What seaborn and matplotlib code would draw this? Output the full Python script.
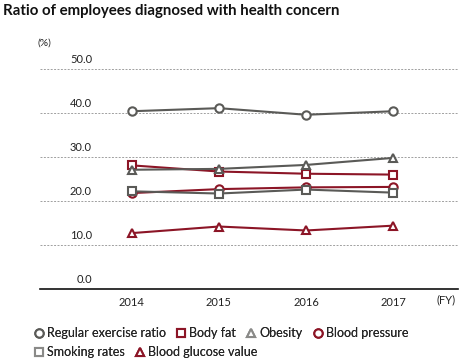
import matplotlib
matplotlib.use("Agg")
import matplotlib.pyplot as plt
import matplotlib.transforms as mtransforms
import seaborn as sns

sns.set_style("white")
plt.rcParams["font.family"] = ["Lato", "DejaVu Sans"]

# Data
years = [2014, 2015, 2016, 2017]
exercise = [40.4, 41.1, 39.6, 40.4]
body_fat = [28.1, 26.7, 26.2, 26.0]
obesity = [27.1, 27.3, 28.2, 29.8]
blood_pressure = [21.8, 22.7, 23.1, 23.2]
smoking = [22.2, 21.7, 22.6, 21.9]
glucose = [12.7, 14.2, 13.3, 14.4]
y_ticks = [0, 10, 20, 30, 40, 50]

grey = "#5a5a57"
red = "#8c1526"

series = [
    ("Regular exercise ratio", exercise, grey, "o"),
    ("Body fat", body_fat, red, "s"),
    ("Obesity", obesity, grey, "^"),
    ("Blood pressure", blood_pressure, red, "o"),
    ("Smoking rates", smoking, grey, "s"),
    ("Blood glucose value", glucose, red, "^"),
]

fig = plt.figure(figsize=(4.59, 3.61), dpi=100)
ax = fig.add_axes([40 / 459, 1 - 289 / 361, 418 / 459, 220 / 361])

handles = {}
for name, vals, col, mk in series:
    sns.lineplot(x=years, y=vals, ax=ax, color=col, marker=mk, markersize=6,
                 markerfacecolor="white", markeredgecolor=col, markeredgewidth=1.5,
                 linewidth=1.5, label=name, clip_on=False, legend=False)
    handles[name] = ax.lines[-1]

ax.set_xlim(2012.95, 2017.74)
ax.set_ylim(0, 50)
ax.set_xticks(years)
ax.set_xticklabels([str(y) for y in years], fontsize=8)
ax.tick_params(axis="x", length=0, pad=6, colors="#222222")
ax.set_yticks([])

for t in y_ticks[1:]:
    ax.axhline(t, color="#a0a0a0", linestyle=(0, (2, 1.5)), linewidth=0.7, zorder=0)

# y labels sit just above their grid lines
trans = mtransforms.blended_transform_factory(fig.transFigure, ax.transData)
trans = trans + mtransforms.ScaledTranslation(0, 3 / 72, fig.dpi_scale_trans)
for t in y_ticks:
    ax.text(92 / 459, t, f"{t:.1f}", transform=trans, ha="right", va="bottom",
            fontsize=8, color="#222222")

for s in ["top", "right", "left"]:
    ax.spines[s].set_visible(False)
ax.spines["bottom"].set_color("#111111")
ax.spines["bottom"].set_linewidth(1.2)

fig.text(446 / 459, 1 - 300 / 361, "(FY)", ha="center", va="center", fontsize=8, color="#222222")
fig.text(44 / 459, 1 - 43 / 361, "(%)", ha="center", va="center", fontsize=7.5, color="#222222")
fig.text(3 / 459, 1 - 4 / 361, "Ratio of employees diagnosed with health concern",
         ha="left", va="top", fontsize=10.8, fontweight="bold", color="#111111")

row1 = ["Regular exercise ratio", "Body fat", "Obesity", "Blood pressure"]
row2 = ["Smoking rates", "Blood glucose value"]
light = {"Obesity": "#8a8a88", "Smoking rates": "#8a8a88"}
for names, yc in [(row1, 333), (row2, 352)]:
    leg = fig.legend([handles[n] for n in names], names, loc="center left",
                     bbox_to_anchor=(34 / 459, 1 - yc / 361), ncol=len(names),
                     frameon=False, fontsize=9, handlelength=0.8, handletextpad=0.25,
                     columnspacing=0.8, borderpad=0, borderaxespad=0)
    for n, h in zip(names, leg.legend_handles):
        h.set_linestyle("none")
        if n in light:
            h.set_markeredgecolor(light[n])
    fig.add_artist(leg)

fig.savefig("out.png", dpi=100)
